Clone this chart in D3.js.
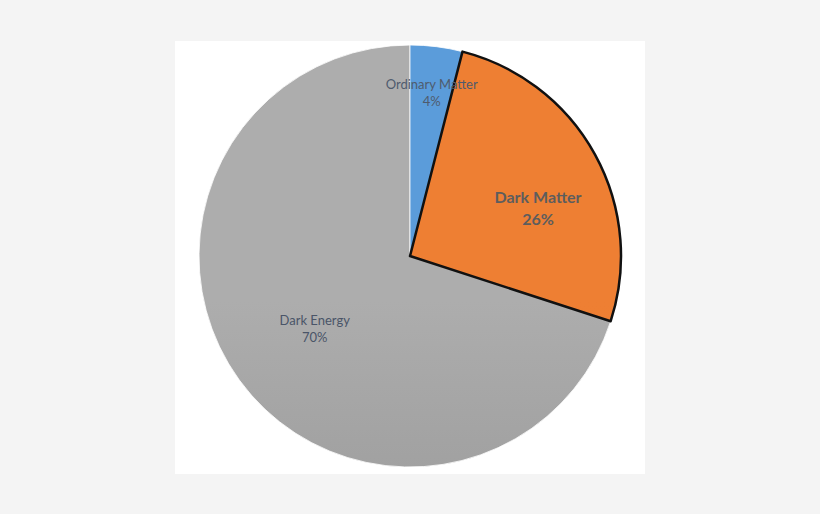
<!DOCTYPE html>
<html>
<head>
<meta charset="utf-8">
<script src="https://cdn.jsdelivr.net/npm/d3@7"></script>
<style>
  body { margin: 0; background: #f4f4f4; }
  svg { display: block; }
</style>
</head>
<body>
<script>
// chart data
var categories = ["Ordinary Matter", "Dark Matter", "Dark Energy"];
var values = [4, 26, 70];
var percentLabels = ["4%", "26%", "70%"];

var w = 820;
var h = 514;
var cx = 410, cy = 256, r = 211;

var svg = d3.select("body")
  .append("svg")
  .attr("width", w)
  .attr("height", h);

// white chart area
svg.append("rect")
  .attr("x", 175).attr("y", 41)
  .attr("width", 470).attr("height", 433)
  .attr("fill", "#ffffff");

// gradients for slices
var defs = svg.append("defs");
var grads = [
  { id: "gBlue", top: "#5b9cda", bot: "#4a8ccb" },
  { id: "gOrange", top: "#ee7f33", bot: "#ea792d" },
  { id: "gGray", top: "#adadad", bot: "#8f8f8f" }
];
grads.forEach(function(g) {
  var lg = defs.append("linearGradient")
    .attr("id", g.id)
    .attr("gradientUnits", "userSpaceOnUse")
    .attr("x1", 0).attr("y1", cy - r)
    .attr("x2", 0).attr("y2", cy + r);
  lg.append("stop").attr("offset", "0%").attr("stop-color", g.top);
  lg.append("stop").attr("offset", "100%").attr("stop-color", g.bot);
});

var pie = d3.pie().sort(null).value(function(d) { return d; });
var arcs = pie(values);

var arc = d3.arc().innerRadius(0).outerRadius(r);

var g = svg.append("g").attr("transform", "translate(" + cx + "," + cy + ")");

var fills = ["url(#gBlue)", "url(#gOrange)", "url(#gGray)"];

// draw gray + blue first, dark matter (outlined) last
var order = [2, 0, 1];
g.selectAll("path.slice")
  .data(order.map(function(i) { return arcs[i]; }))
  .enter()
  .append("path")
  .attr("class", "slice")
  .attr("d", arc)
  .attr("fill", function(d) { return fills[d.index]; })
  .attr("stroke", function(d) { return d.index === 1 ? "#111" : "#ffffff"; })
  .attr("stroke-width", function(d) { return d.index === 1 ? 2.5 : 0.8; })
  .attr("stroke-linejoin", "round");

// labels
var labelR = [0.82, 0.66, 0.57];
var labelNudge = [[0, 9], [6, 19], [2, 2]];
var labelSize = [13, 16, 13];
var labelGap = [17, 22, 17];
var labelWeight = ["normal", "bold", "normal"];
var labelColor = ["#4f5b6d", "#5d5d5d", "#4a5568"];

arcs.forEach(function(d, i) {
  var la = d3.arc().innerRadius(r * labelR[i]).outerRadius(r * labelR[i]);
  var c = la.centroid(d);
  var x = c[0] + labelNudge[i][0];
  var y = c[1] + labelNudge[i][1];
  var t = g.append("text")
    .attr("x", x).attr("y", y)
    .attr("text-anchor", "middle")
    .style("font-family", "Lato, 'Open Sans', sans-serif")
    .style("font-size", labelSize[i] + "px")
    .style("font-weight", labelWeight[i])
    .attr("fill", labelColor[i]);
  var lh = labelGap[i];
  t.append("tspan").attr("x", x).attr("dy", -lh / 2 + labelSize[i] * 0.35).text(categories[i]);
  t.append("tspan").attr("x", x).attr("dy", lh).text(percentLabels[i]);
});
</script>
</body>
</html>
